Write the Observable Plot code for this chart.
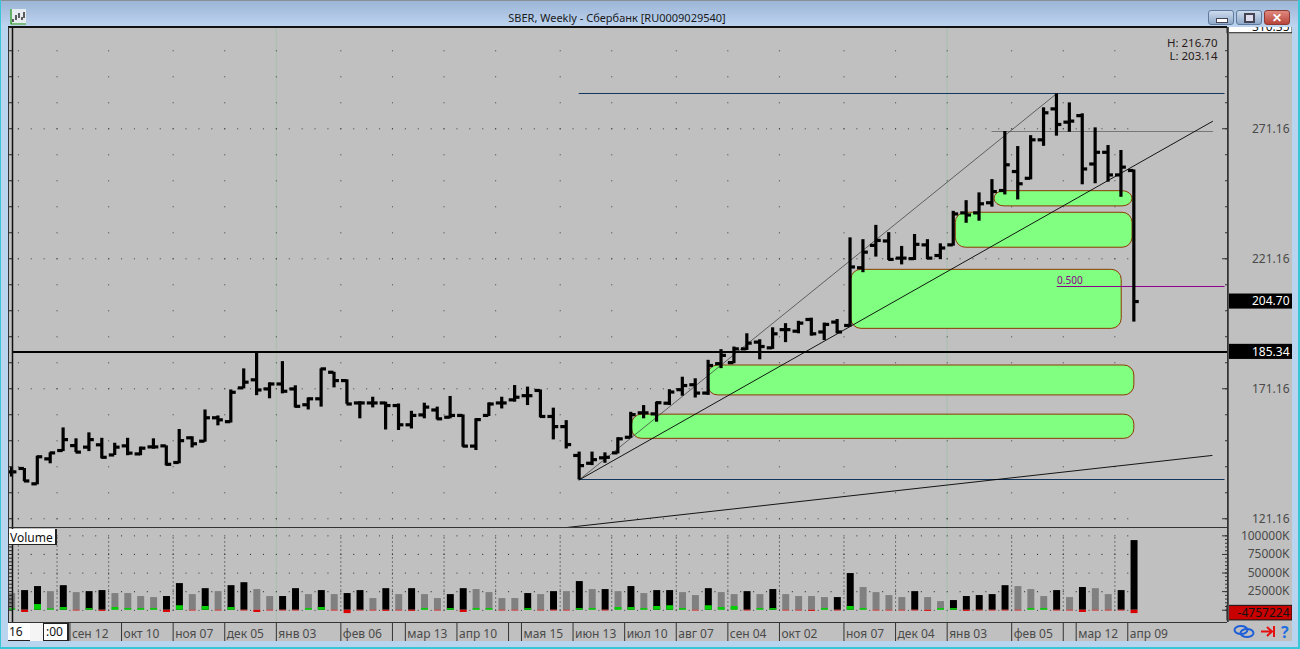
<!DOCTYPE html>
<html><head><meta charset="utf-8">
<script src="https://cdn.jsdelivr.net/npm/d3@7"></script>
<script src="https://cdn.jsdelivr.net/npm/@observablehq/plot@0.6"></script>
<style>
html,body{margin:0;padding:0;width:1300px;height:649px;overflow:hidden;background:#b9d4ef;font-family:"Noto Sans",sans-serif}
#win{position:absolute;left:0;top:0;width:1300px;height:649px;overflow:hidden;background:#b9d4ef}
#win>*{position:absolute}
#bar{left:0;top:0;width:1300px;height:27px;background:linear-gradient(#9db5d6,#bdd5f0);border-top:1px solid #8a8f96;box-sizing:border-box}
#panel{left:8px;top:27px;width:1284px;height:614px;background:#c0c0c0}
#chart{left:0;top:0;width:1300px;height:649px}
#title{left:0;top:10px;width:1234px;text-align:center;font-size:11px;color:#1a1a1a;line-height:16px}
.ln{background:#222}
.btn{top:10px;height:13px;border:1px solid #5f7a9c;border-radius:3px;box-sizing:content-box;background:linear-gradient(#cddcee,#8fa8c8)}
.box{background:#fff;box-sizing:border-box;font-size:12px;line-height:17px;color:#111;border-right:2px solid #222;border-bottom:1px solid #222}
</style></head><body>
<div id="win">
  <div id="bar"></div>
  <div id="panel"></div>
  <div id="title">SBER, Weekly - Сбербанк [RU0009029540]</div>
  <svg style="left:10px;top:9px" width="16" height="16"><rect width="16" height="16" fill="#e6ecef"/><path d="M1 0V15H16" fill="none" stroke="#0a8a0a" stroke-width="1.2"/><path d="M3 10v3M6 6v5M9 4v5M12 8v3M14 3v6" stroke="#111" stroke-width="1.3"/></svg>
  <div class="btn" style="left:1208px;width:24px"><div style="position:absolute;left:7px;top:7px;width:10px;height:3px;background:#fff;border:1px solid #445"></div></div>
  <div class="btn" style="left:1236px;width:24px"><div style="position:absolute;left:7px;top:2px;width:7px;height:6px;border:2px solid #445;background:#dde"></div></div>
  <div class="btn" style="left:1264px;width:24px;background:linear-gradient(#e08a80,#b8433a);border-color:#8d3a34;color:#fff;font-weight:bold;font-size:12px;line-height:13px;text-align:center">✕</div>
  <div id="chart"></div>
  <div class="ln" style="left:8px;top:26px;width:1219px;height:2px;background:#111"></div>
  <div class="ln" style="left:1227px;top:27px;width:1px;height:595px;background:#333"></div>
  <div class="ln" style="left:1228px;top:27px;width:1px;height:595px;background:#555"></div>
  <div class="ln" style="left:8px;top:527px;width:1219px;height:1px;background:#333"></div>
  <div class="ln" style="left:8px;top:622px;width:1219px;height:1px;background:#333"></div>
  <div class="ln" style="left:8px;top:27px;width:1px;height:595px;background:#333"></div>
  <div class="box" style="left:9px;top:529px;width:48px;height:16px;padding-left:1px">Volume</div>
  <div class="box" style="left:8px;top:623px;width:22px;height:18px;padding-left:1px;border-right:none">16</div>
  <div style="left:30px;top:623px;width:13px;height:18px;background:#f4f4f4"></div>
  <div class="box" style="left:43px;top:623px;width:26px;height:18px;padding-left:2px;border-left:1px solid #222;border-top:1px solid #222;line-height:16px">:00</div>
  <svg style="left:1232px;top:622px" width="62" height="19">
    <g fill="none" stroke="#1f5fd8" stroke-width="2"><ellipse cx="9" cy="8" rx="6.5" ry="4"/><ellipse cx="15" cy="11" rx="6.5" ry="4"/></g>
    <path d="M29 9.5H39M35 5l5 4.5-5 4.5M42 4v11" fill="none" stroke="#e61010" stroke-width="2"/>
    <text x="49" y="16" font-size="16" font-weight="bold" fill="#1f6fe0" font-family="Noto Sans">?</text>
  </svg>
  <div style="left:0;top:647px;width:1300px;height:2px;background:#39c6d8"></div>
  <div style="left:0;top:0;width:1px;height:649px;background:#39c6d8"></div>
  <div style="left:1298px;top:0;width:2px;height:649px;background:#39c6d8"></div>
</div>
<script>
const opens = [139.2,140.5,134.6,144.2,147.4,149.3,148.7,149.6,145.7,149.2,
146.1,148.8,149.2,142.8,152.3,151.0,160.0,158.5,171.5,174.6,
171.1,173.0,171.1,165.0,167.3,177.5,174.3,165.7,165.7,165.7,
164.7,157.3,161.1,163.0,160.2,160.9,149.1,160.9,165.7,166.9,
168.5,170.5,160.5,156.6,145.5,142.5,144.6,146.5,152.5,161.9,
161.5,165.6,170.8,172.7,169.5,180.8,181.2,186.5,189.1,186.9,
193.9,193.3,197.8,193.0,196.8,195.5,217.7,226.3,228.0,221.4,
221.2,226.5,222.4,226.5,238.8,238.8,242.7,247.4,254.7,252.1,
266.9,278.8,273.7,276.2,257.6,262.1,253.4,255.1];
const highs = [141.0,140.5,145.2,146.5,156.1,151.9,154.2,152.1,150.2,152.1,
148.7,151.9,149.2,155.5,152.7,163.0,160.7,170.7,178.8,184.8,
173.4,181.6,172.3,167.6,178.8,177.5,174.6,166.2,167.9,166.0,
165.3,162.5,165.6,164.1,168.2,161.1,159.6,165.7,167.9,172.4,
171.8,170.7,163.7,158.9,146.8,146.8,146.5,152.3,162.1,164.7,
166.0,170.8,175.6,175.0,182.1,186.2,187.2,192.3,190.0,194.6,
196.2,197.1,198.3,196.4,197.8,229.2,228.5,234.0,231.2,225.9,
230.5,228.5,226.9,239.4,243.5,246.5,251.6,270.1,264.3,268.5,
279.2,284.6,281.1,276.9,271.5,264.7,262.8,255.3];
const lows = [137.2,135.4,134.2,142.3,147.0,146.6,147.0,144.2,145.5,145.4,
145.4,147.9,141.5,142.3,148.4,150.6,156.9,158.0,171.1,168.5,
167.3,169.2,163.8,163.0,164.1,171.5,165.2,159.6,163.8,155.3,
155.1,155.7,159.6,159.2,159.6,148.7,147.4,160.5,163.4,166.0,
164.7,160.0,151.5,148.0,136.1,141.6,142.5,146.1,152.1,159.6,
158.3,164.7,168.3,167.6,168.6,178.9,180.8,185.9,182.3,186.3,
188.9,192.3,191.4,189.7,192.3,194.9,215.8,221.8,220.5,218.8,
220.5,220.8,220.8,226.0,234.8,235.6,241.0,245.7,243.8,251.5,
264.4,268.3,269.8,249.6,250.0,250.6,244.8,196.8];
const closes = [139.2,135.7,145.0,146.5,151.6,146.8,151.6,144.8,148.7,146.4,
148.3,148.8,142.1,151.2,150.0,160.0,159.2,169.8,173.7,170.7,
173.0,170.2,164.4,167.3,178.8,174.3,165.3,165.7,165.7,164.7,
157.3,160.9,164.1,159.6,160.9,149.1,159.3,165.3,165.7,167.9,
168.5,160.5,156.6,149.7,141.6,143.9,144.8,151.9,161.2,161.9,
165.8,169.9,172.4,169.5,180.1,184.0,186.5,188.7,187.4,192.3,
193.9,196.4,192.3,195.9,193.0,218.0,223.7,228.2,220.9,221.4,
226.7,221.4,225.3,238.4,238.0,242.3,247.0,257.3,250.0,266.9,
277.3,272.8,274.1,255.7,262.1,253.4,256.4,204.7];
const volumes = [22400,26400,31800,25000,33000,23700,25000,26400,22400,22400,
18400,17000,18400,35800,21000,29000,25000,33000,37000,27800,
18400,18400,29000,21000,26400,21000,22400,26400,15700,29000,
21000,29000,21000,15700,21000,29000,27800,23700,15700,15700,
22400,21000,25000,25000,38500,27800,27800,25000,31800,22400,
26400,26400,23700,19700,29000,23700,21000,25000,21000,27800,
21000,18400,18400,17000,17000,49300,30500,23700,19700,17000,
25000,17000,11600,13000,18400,19700,21000,33000,31800,27800,
18400,26400,17000,30500,29000,21000,26400,93600];
const volumeDark = [0,1,1,0,1,0,1,1,0,0,
0,0,1,1,0,1,0,1,1,0,
0,1,1,0,1,0,1,1,0,1,
0,1,0,0,1,1,0,0,0,0,
1,0,1,0,1,0,1,0,1,0,
1,1,0,0,1,0,0,1,0,1,
0,0,0,0,1,1,0,0,0,0,
1,0,0,1,1,1,1,1,0,0,
0,1,0,1,0,0,1,1];
const volumeDelta = [1800,-3000,7600,1800,3600,-1000,2200,-1500,3600,2200,
2200,2200,-3000,6000,-1000,5000,-1000,3600,-1000,-3000,
-1000,-1000,-1000,2200,3600,-1000,-4500,-1000,-1000,-1500,
-1000,-1500,2200,-1000,2200,-3000,2200,2200,-1000,-1000,
2200,-1000,-1000,-1000,2200,2200,-1000,3600,3600,2200,
5000,6000,2200,-1000,6000,3600,5000,-1000,2200,2200,
-1000,-1000,-1500,2200,-1000,5000,2200,-1000,-1000,-1000,
-1000,-1500,2200,2200,-1500,-1000,-1000,-1000,-1000,2200,
2200,-1000,-1000,-3000,-1000,-1000,-1000,-4500];

const priceLabels = [121.16,171.16,221.16,271.16];
const priceTicks = [121.16,131.16,141.16,151.16,161.16,171.16,181.16,191.16,201.16,211.16,221.16,231.16,241.16,251.16,261.16,271.16,281.16,291.16,301.16];
const volumeLabels = [25000,50000,75000,100000];
const volumeRows = [0,25000,50000,75000,100000];
const volumeTicks = [0,5000,10000,15000,20000,25000,30000,35000,40000,45000,50000,55000,60000,65000,70000,75000,80000,85000,90000,95000,100000];
const gridBars = [0,3,7,12,16,20,25,29,33,37,42,46,51,55,59,64,68,72,77,81,85];
const yearBars = [20,72];
const dateBars = [4,8,12,16,20,25,30,34,39,43,47,51,55,59,64,68,72,77,82,86];
const dateNames = ["сен 12","окт 10","ноя 07","дек 05","янв 03","фев 06","мар 13","апр 10","мая 15","июн 13","июл 10","авг 07","сен 04","окт 02","ноя 07","дек 04","янв 03","фев 05","мар 12","апр 09"];
const blankBars = [29,38,81];

const zonesStart = [76.2,73.2,65.1,54,48.1];
const zonesEnd = [86.9,86.9,86.06,87.04,87.04];
const zonesTop = [247.15,238.85,216.9,180.1,161.2];
const zonesBottom = [241.3,225.4,194.2,168.6,151.9];

const support = 185.34;
const lastPrice = 204.70;
const thinTrend = [[44,136.1],[81,284.6]];
const mainTrend = [[44,136.1],[93.1,274.0]];
const lowTrend = [[43.06,117.8],[93.06,145.5]];
const topLevel = [[44,284.72],[94,284.72]];
const lowLevel = [[44,136.26],[94,136.26]];
const peakLevel = [[76,270.1],[93.1,270.1]];
const fibLevel = [[81.05,210.49],[94,210.49]];

const bars = opens.map((o,i)=>({i,o,h:highs[i],l:lows[i],c:closes[i]}));
const vols = volumes.map((v,i)=>({i,v,dark:volumeDark[i],d:volumeDelta[i]}));
const gridOffset = 0.53;
const denseBars = d3.range(0,87);
const cross = (xs,ys)=>xs.flatMap(x=>ys.map(y=>({x:x+gridOffset,y})));

const xDomain = [0.0775,94.26];
const tagEnd = 99.3;
const textFont = '"Noto Sans",sans-serif';
const tickColor = "#333";
const labelColor = "#4a4a4a";
const dotStyle = {r:0.6,fill:"#333",stroke:"none"};
const lineMark = (pts,o)=>Plot.line(pts,{x:"0",y:"1",...o});

const pricePlot = Plot.plot({
  width:1284,height:500,marginLeft:4,marginRight:65,marginTop:0,marginBottom:0,
  style:{position:"absolute",left:"8px",top:"27px",background:"transparent",fontFamily:textFont,maxWidth:"none"},
  x:{domain:xDomain,axis:null},
  y:{domain:[117.8,310.1],axis:null},
  marks:[
    Plot.ruleX(yearBars,{x:d=>d+gridOffset,stroke:"#a9bfae",strokeWidth:1}),
    Plot.dot(cross(gridBars,priceTicks),{x:"x",y:"y",...dotStyle}),
    Plot.dot(cross(denseBars,priceLabels),{x:"x",y:"y",...dotStyle}),
    Plot.rect(zonesStart.map((s,k)=>({s,e:zonesEnd[k],t:zonesTop[k],b:zonesBottom[k]})),{x1:"s",x2:"e",y1:"b",y2:"t",rx:10,fill:"#80ff80",stroke:"#8c3a00",strokeWidth:1}),
    lineMark(topLevel,{stroke:"#12355e",strokeWidth:1}),
    lineMark(lowLevel,{stroke:"#12355e",strokeWidth:1}),
    lineMark(peakLevel,{stroke:"#777",strokeWidth:1}),
    lineMark(fibLevel,{stroke:"#8b008b",strokeWidth:1}),
    Plot.text(["0.500"],{x:fibLevel[0][0],y:fibLevel[0][1],text:d=>d,textAnchor:"start",dy:-6,fontSize:10,fill:"#8b008b"}),
    lineMark(thinTrend,{stroke:"#333",strokeWidth:0.7}),
    lineMark(mainTrend,{stroke:"#000",strokeWidth:0.9}),
    lineMark(lowTrend,{stroke:"#000",strokeWidth:0.9}),
    Plot.ruleY([support],{stroke:"#000",strokeWidth:2}),
    Plot.ruleX(bars,{x:"i",y1:"l",y2:"h",stroke:"#000",strokeWidth:3.2}),
    Plot.ruleY(bars,{x1:d=>d.i-0.42,x2:"i",y:"o",stroke:"#000",strokeWidth:3.2}),
    Plot.ruleY(bars,{x1:"i",x2:d=>d.i+0.42,y:"c",stroke:"#000",strokeWidth:3.2}),
    Plot.ruleX([xDomain[0]],{stroke:"#111",strokeWidth:1.5}),
    Plot.axisY(priceTicks,{anchor:"left",tickSize:4,fill:"none",label:null,stroke:"#222"}),
    Plot.axisY(priceTicks,{anchor:"right",tickSize:3,dx:-3,fill:"none",label:null,stroke:tickColor}),
    Plot.axisY(priceLabels,{anchor:"right",tickSize:6,dx:-6,fill:"none",label:null,stroke:tickColor}),
    Plot.text(priceLabels,{y:d=>d,text:d=>d.toFixed(2),frameAnchor:"right",textAnchor:"end",dx:62,fontSize:12,fill:labelColor}),
    Plot.rect([lastPrice,support],{x1:xDomain[1],x2:tagEnd,y1:d=>d-2.9,y2:d=>d+2.9,fill:"#000"}),
    Plot.text([lastPrice,support],{y:d=>d,text:d=>d.toFixed(2),frameAnchor:"right",textAnchor:"end",dx:62,fontSize:12,fill:"#fff"}),
    Plot.rect([310.35],{x1:xDomain[1],x2:tagEnd,y1:307.9,y2:312,fill:"#fff",stroke:"#222"}),
    Plot.text([310.35],{y:d=>d,text:d=>d.toFixed(2),frameAnchor:"right",textAnchor:"end",dx:62,fontSize:12,fill:"#111"}),
    Plot.text(["H: 216.70"],{text:d=>d,frameAnchor:"top-right",textAnchor:"end",lineAnchor:"middle",dx:-10,dy:16,fontSize:11.5,fill:"#2a1a1a"}),
    Plot.text(["L: 203.14"],{text:d=>d,frameAnchor:"top-right",textAnchor:"end",lineAnchor:"middle",dx:-10,dy:29,fontSize:11.5,fill:"#2a1a1a"})
  ]
});

const volumePlot = Plot.plot({
  width:1284,height:114,marginLeft:4,marginRight:65,marginTop:0,marginBottom:19,
  style:{position:"absolute",left:"8px",top:"527px",background:"transparent",fontFamily:textFont,maxWidth:"none"},
  x:{domain:xDomain,axis:null},
  y:{domain:[-16500,111200],axis:null},
  marks:[
    Plot.ruleX(yearBars,{x:d=>d+gridOffset,stroke:"#a9bfae",strokeWidth:1}),
    Plot.ruleX(gridBars.filter(b=>!yearBars.includes(b)),{x:d=>d+gridOffset,y1:-1000,y2:100000,stroke:"#222",strokeDasharray:"1,3"}),
    Plot.dot(cross(denseBars,volumeRows),{x:"x",y:"y",...dotStyle}),
    Plot.rectY(vols,{x1:d=>d.i-0.27,x2:d=>d.i+0.27,y:"v",dx:0.7,fill:d=>d.dark?"#000":"#808080"}),
    Plot.rectY(vols,{x1:d=>d.i-0.27,x2:d=>d.i+0.27,y:"d",dx:0.7,fill:d=>d.d>0?"#00d000":"#d80000"}),
    Plot.ruleX([xDomain[0]],{stroke:"#111",strokeWidth:1.5}),
    Plot.axisY(volumeTicks,{anchor:"left",tickSize:4,fill:"none",label:null,stroke:"#222"}),
    Plot.axisY(volumeTicks,{anchor:"right",tickSize:3,dx:-3,fill:"none",label:null,stroke:tickColor}),
    Plot.axisY(volumeRows,{anchor:"right",tickSize:6,dx:-6,fill:"none",label:null,stroke:tickColor}),
    Plot.text(volumeLabels,{y:d=>d,text:d=>d+"K",frameAnchor:"right",textAnchor:"end",dx:62,fontSize:12,fill:labelColor}),
    Plot.rect([-3900],{x1:xDomain[1],x2:tagEnd,y1:d=>d-9800,y2:d=>d+9800,fill:"#c80000",stroke:"#111"}),
    Plot.text(["-4757224"],{y:-3900,text:d=>d,frameAnchor:"right",textAnchor:"end",dx:62,fontSize:12,fill:"#111"}),
    Plot.axisX(dateBars.concat(blankBars),{x:d=>d+gridOffset,anchor:"bottom",tickSize:19,fill:"none",label:null,stroke:tickColor}),
    Plot.text(dateBars,{x:d=>d+gridOffset,text:(d,k)=>dateNames[k],frameAnchor:"bottom",textAnchor:"start",lineAnchor:"middle",dx:2,dy:12,fontSize:12,fill:labelColor})
  ]
});
document.getElementById("chart").append(pricePlot,volumePlot);
</script>
</body></html>
